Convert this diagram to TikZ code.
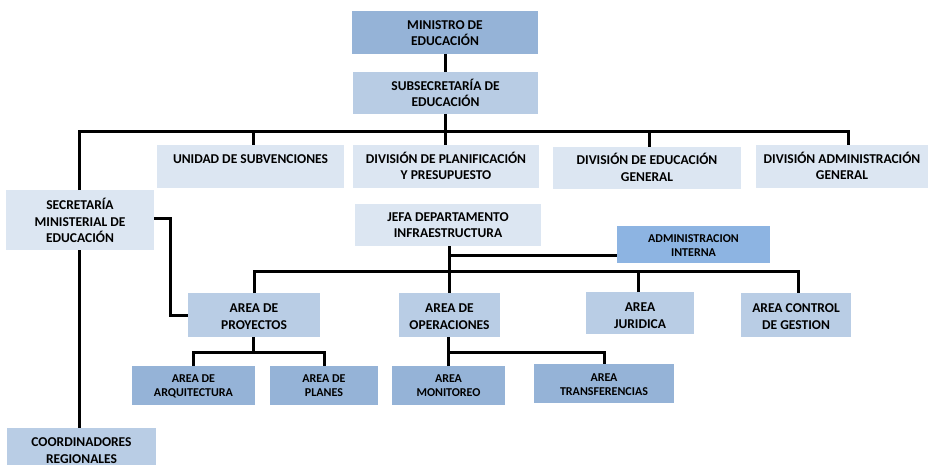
\documentclass[tikz,border=0pt]{standalone}
\usepackage{fontspec}
\setmainfont{Carlito}
\definecolor{cMin}{HTML}{95B3D7}
\definecolor{cSub}{HTML}{B8CCE4}
\definecolor{cLight}{HTML}{DCE6F2}
\definecolor{cArea}{HTML}{B9CDE5}
\definecolor{cAdm}{HTML}{8DB4E2}
\newcommand\bx[4]{\parbox[t][#2pt][t]{#1pt}{\centering\rule{0pt}{#3pt}#4\par}}
\tikzset{
  box/.style={inner sep=0pt, outer sep=0pt, anchor=north west},
  big/.style={font=\fontsize{13.5}{16.5}\selectfont\bfseries},
  small/.style={font=\fontsize{12}{14}\selectfont\bfseries},
  conn/.style={line width=3pt, black}
}
\begin{document}
\begin{tikzpicture}[x=1pt,y=-1pt]
\useasboundingbox (0,0) rectangle (928,465);
% boxes
\node[box,big,fill=cMin] (min) at (352,11) {\bx{186}{43}{18.5}{MINISTRO DE\\EDUCACIÓN}};
\node[box,big,fill=cSub] (sub) at (353,72) {\bx{185}{42}{18.5}{SUBSECRETARÍA DE\\EDUCACIÓN}};
\node[box,big,fill=cLight] (uni) at (157,145) {\bx{187}{43}{18.5}{UNIDAD DE SUBVENCIONES}};
\node[box,big,fill=cLight] (plan) at (353,145) {\bx{186}{43}{18.5}{DIVISIÓN DE PLANIFICACIÓN\\Y PRESUPUESTO}};
\node[box,big,fill=cLight] (edu) at (553,147) {\bx{188}{42}{18}{DIVISIÓN DE EDUCACIÓN\\GENERAL}};
\node[box,big,fill=cLight] (adg) at (756,145) {\bx{172}{43}{18.5}{DIVISIÓN ADMINISTRACIÓN\\GENERAL}};
\node[box,big,fill=cLight] (sec) at (6,190) {\bx{148}{60}{19.5}{SECRETARÍA\\MINISTERIAL DE\\EDUCACIÓN}};
\node[box,big,fill=cLight] (jefa) at (355,204) {\bx{186}{42}{17.5}{JEFA DEPARTAMENTO\\INFRAESTRUCTURA}};
\node[box,small,fill=cAdm] (adi) at (617,226) {\bx{153}{37}{16}{ADMINISTRACION\\INTERNA}};
\node[box,big,fill=cArea] (proy) at (188,293) {\bx{132}{44}{19.5}{AREA DE\\PROYECTOS}};
\node[box,big,fill=cArea] (oper) at (399,293) {\bx{101}{44}{19.5}{AREA DE\\OPERACIONES}};
\node[box,big,fill=cArea] (jur) at (586,292) {\bx{108}{42}{19.5}{AREA\\JURIDICA}};
\node[box,big,fill=cArea] (ctrl) at (741,293) {\bx{110}{44}{19.5}{AREA CONTROL\\DE GESTION}};
\node[box,small,fill=cMin] (arq) at (132,366) {\bx{123}{39}{16}{AREA DE\\ARQUITECTURA}};
\node[box,small,fill=cMin] (pla) at (270,366) {\bx{108}{39}{16}{AREA DE\\PLANES}};
\node[box,small,fill=cMin] (mon) at (392,366) {\bx{113}{39}{16}{AREA\\MONITOREO}};
\node[box,small,fill=cMin] (tra) at (534,364) {\bx{140}{39}{17}{AREA\\TRANSFERENCIAS}};
\node[box,big,fill=cArea] (coo) at (7,428) {\bx{149}{37}{18.5}{COORDINADORES\\REGIONALES}};
% bus levels
\coordinate (b1) at (0,132);
\coordinate (b2) at (0,271);
\coordinate (b3) at (0,352);
% connectors
\draw[conn] (min.south) -- (min.south |- sub.north);
\draw[conn] (sub.south) -- (sub.south |- plan.north);
\draw[conn] ([xshift=-1]sec.north) |- ([xshift=6]adg.north |- b1) -- ([xshift=6]adg.north);
\draw[conn] ([xshift=3]uni.north) -- ([xshift=3]uni.north |- b1);
\draw[conn] ([xshift=2]edu.north) -- ([xshift=2]edu.north |- b1);
\draw[conn] ([xshift=-1]sec.south) -- ([xshift=-1]sec.south |- coo.north);
\draw[conn] ([yshift=2]sec.east) -- ++(16,0) |- (proy.west);
\draw[conn] ([xshift=1]jefa.south) -- ([xshift=1]jefa.south |- oper.north);
\draw[conn] ([xshift=1]jefa.south |- 0,255) -- (adi.west |- 0,255);
\draw[conn] (proy.north) |- ([xshift=2]ctrl.north |- b2) -- ([xshift=2]ctrl.north);
\draw[conn] ([xshift=-2]jur.north) -- ([xshift=-2]jur.north |- b2);
\draw[conn] ([xshift=-1]proy.south) -- ([xshift=-1]proy.south |- b3);
\draw[conn] (arq.north) |- (pla.north |- b3) -- (pla.north);
\draw[conn] ([xshift=-1]oper.south) -- ([xshift=-1]oper.south |- mon.north);
\draw[conn] ([xshift=-1]oper.south |- b3) -| (tra.north);
\end{tikzpicture}
\end{document}
